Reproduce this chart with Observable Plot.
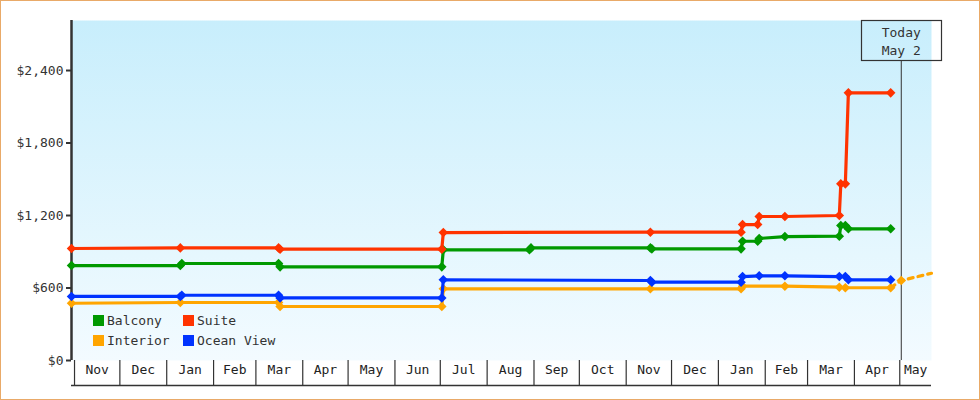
<!DOCTYPE html>
<html><head><meta charset="utf-8">
<script src="https://cdn.jsdelivr.net/npm/d3@7"></script>
<script src="https://cdn.jsdelivr.net/npm/@observablehq/plot@0.6"></script>
<style>
body{margin:0;background:#fff;}
#wrap{position:relative;width:980px;height:400px;overflow:hidden;font-family:"DejaVu Sans Mono",monospace;}
#border{position:absolute;left:0;top:0;width:980px;height:400px;box-sizing:border-box;border:1px solid #e9aa68;pointer-events:none;}
#legend{position:absolute;left:93px;top:315px;display:grid;grid-template-columns:90px 90px;row-gap:9px;font-size:13px;color:#333;}
.item{display:flex;align-items:center;height:11px;line-height:11px;white-space:nowrap}
.sw{width:11px;height:11px;margin-right:3px;flex:none}
</style></head><body><div id="wrap"></div>
<script>
// ---- data ----
const seriesNames = ["Balcony", "Suite", "Interior", "Ocean View"];
const seriesColors = ["#009900", "#ff3300", "#ffa500", "#0033ff"];

const balcony = [["2021-10-30",786],["2022-01-10",786],["2022-01-11",803],["2022-03-16",803],["2022-03-17",775],["2022-07-02",775],["2022-07-03",916],["2022-08-29",916],["2022-08-30",932],["2022-11-17",932],["2022-11-18",924],["2023-01-16",924],["2023-01-17",987],["2023-01-27",987],["2023-01-28",1010],["2023-02-14",1026],["2023-03-22",1029],["2023-03-23",1117],["2023-03-26",1117],["2023-03-28",1090],["2023-04-25",1090]];
const suite = [["2021-10-30",927],["2022-01-10",932],["2022-03-16",932],["2022-03-17",921],["2022-07-02",921],["2022-07-03",1059],["2022-11-17",1062],["2023-01-16",1062],["2023-01-17",1125],["2023-01-27",1125],["2023-01-28",1192],["2023-02-14",1192],["2023-03-22",1200],["2023-03-23",1462],["2023-03-26",1462],["2023-03-28",2215],["2023-04-25",2215]];
const interior = [["2021-10-30",474],["2022-01-10",480],["2022-03-16",480],["2022-03-17",447],["2022-07-02",447],["2022-07-03",593],["2022-11-17",593],["2023-01-16",593],["2023-01-17",615],["2023-02-14",615],["2023-03-22",607],["2023-03-26",602],["2023-04-25",602]];
const oceanView = [["2021-10-30",530],["2022-01-10",530],["2022-01-11",540],["2022-03-16",540],["2022-03-17",518],["2022-07-02",518],["2022-07-03",668],["2022-11-17",662],["2022-11-18",648],["2023-01-16",648],["2023-01-17",695],["2023-01-28",701],["2023-02-14",701],["2023-03-22",695],["2023-03-26",695],["2023-03-28",668],["2023-04-25",668]];
const interiorForecast = [["2023-04-25",602],["2023-05-02",662],["2023-05-22",722]];
const todayPoint = [["2023-05-02",662]];

const xDomain = ["2021-10-30", "2023-05-22"];
const yDomain = [0, 2814];
const yTicks = [0, 600, 1200, 1800, 2400];
const monthLabels = ["Nov","Dec","Jan","Feb","Mar","Apr","May","Jun","Jul","Aug","Sep","Oct","Nov","Dec","Jan","Feb","Mar","Apr","May"];
const todayDate = "2023-05-02";
const todayText = "Today\nMay 2";

// ---- build ----
const toRows = (arr, name) => arr.map(([d, v]) => ({date: new Date(d), value: v, series: name}));
const seriesData = [balcony, suite, interior, oceanView].map((a, i) => toRows(a, seriesNames[i]));
const forecastRows = toRows(interiorForecast, "Interior");
const todayRows = toRows(todayPoint, "Interior");
const x0 = new Date(xDomain[0]), x1 = new Date(xDomain[1]);
const monthStarts = d3.utcMonths(x0, x1);
const monthRows = monthStarts.map((m, i) => {
  const a = m < x0 ? x0 : m;
  const nx = d3.utcMonth.offset(m, 1);
  const b = nx > x1 ? x1 : nx;
  return {mid: new Date((+a + +b) / 2), label: monthLabels[i]};
});
const tDate = new Date(todayDate);

const marks = [
  Plot.frame({fill: "url(#bgGrad)", stroke: "none"}),
  Plot.axisY({ticks: yTicks, tickFormat: d => "$" + d3.format(",")(d), tickSize: 5, tickPadding: 3, stroke: "#333", strokeWidth: 2, label: null, fill: "#333"}),
  Plot.axisX({ticks: monthStarts, tickSize: 25, tickFormat: () => "", label: null, stroke: "#333", strokeWidth: 1.2}),
  Plot.ruleY([0], {dy: 25, stroke: "#333", strokeWidth: 1.5}),
  Plot.text(monthRows, {x: "mid", text: "label", frameAnchor: "bottom", dy: 13, fill: "#222", fontSize: 13}),
  Plot.ruleX([tDate], {insetTop: 40, stroke: "#333", strokeWidth: 1}),
  Plot.text([tDate], {x: d => d, text: () => todayText, frameAnchor: "top", lineAnchor: "top", dy: 4, lineHeight: 1.38, fill: "#333", fontSize: 13}),
  Plot.ruleX([x0], {stroke: "#333", strokeWidth: 2.5}),
];
seriesData.forEach((rows, i) => {
  if (seriesNames[i] === "Interior") {
    marks.push(Plot.line(forecastRows, {x: "date", y: "value", stroke: seriesColors[i], strokeWidth: 3.2, strokeDasharray: "5,5"}));
    marks.push(Plot.dot(todayRows, {x: "date", y: "value", fill: seriesColors[i], symbol: "diamond2", r: 4.3}));
  }
  marks.push(Plot.line(rows, {x: "date", y: "value", stroke: seriesColors[i], strokeWidth: 3.2}));
  marks.push(Plot.dot(rows, {x: "date", y: "value", fill: seriesColors[i], symbol: "diamond2", r: 4.3}));
});

const chart = Plot.plot({
  width: 980, height: 400,
  marginLeft: 71, marginRight: 49, marginTop: 20, marginBottom: 40,
  style: {fontFamily: "DejaVu Sans Mono", fontSize: "13px", color: "#333", background: "transparent", overflow: "visible"},
  x: {type: "utc", domain: [x0, x1], axis: null},
  y: {domain: yDomain, axis: null},
  marks
});

const svg = d3.select(chart);
const defs = svg.insert("defs", ":first-child");
const g = defs.append("linearGradient").attr("id", "bgGrad").attr("x1", 0).attr("y1", 0).attr("x2", 0).attr("y2", 1);
g.append("stop").attr("offset", "0%").attr("stop-color", "#c8eefc");
g.append("stop").attr("offset", "100%").attr("stop-color", "#f3fbff");

const xs = chart.scale("x"), ys = chart.scale("y");
const tx = xs.apply(tDate);
const frameTop = Math.min(...ys.range);
svg.append("rect").attr("x", Math.round(tx) - 39.5).attr("y", frameTop + 0.5).attr("width", 80).attr("height", 40)
  .attr("fill", "none").attr("stroke", "#333").attr("stroke-width", 1.2);

const wrap = document.getElementById("wrap");
wrap.appendChild(chart);
chart.style.position = "absolute"; chart.style.left = "0"; chart.style.top = "0";

const legend = document.createElement("div");
legend.id = "legend";
seriesNames.forEach((n, i) => {
  const it = document.createElement("div"); it.className = "item";
  const sw = document.createElement("span"); sw.className = "sw"; sw.style.background = seriesColors[i];
  const tx2 = document.createElement("span"); tx2.textContent = n;
  it.appendChild(sw); it.appendChild(tx2); legend.appendChild(it);
});
wrap.appendChild(legend);
const border = document.createElement("div"); border.id = "border"; wrap.appendChild(border);
</script>
</body></html>
